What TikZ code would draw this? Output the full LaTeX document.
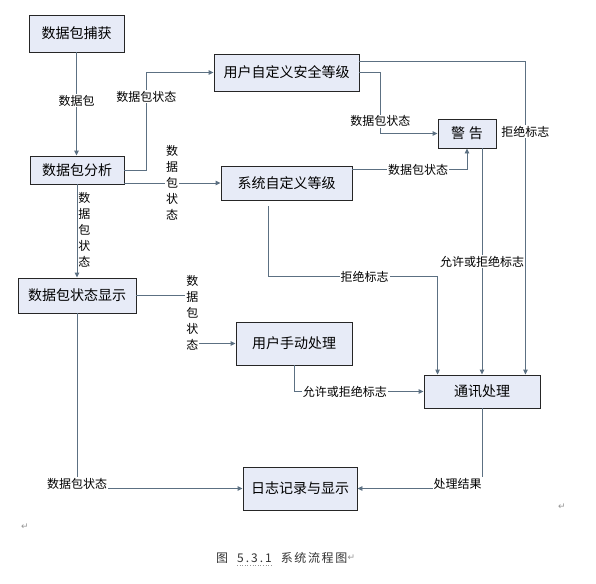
\documentclass[tikz,border=0pt]{standalone}
\usepackage{fontspec}
\newfontfamily\cjk{Noto Sans CJK SC}
\newfontfamily\dejavu{DejaVu Sans}
\usetikzlibrary{arrows.meta,calc}
\definecolor{ln}{RGB}{92,112,130}
\definecolor{bx}{RGB}{231,235,247}
\definecolor{mk}{RGB}{150,150,150}
\begin{document}
\begin{tikzpicture}[x=1pt,y=-1pt,
  box/.style={draw=black!85, fill=bx, line width=0.9pt, inner sep=0pt,
    font=\cjk\fontsize{14}{16}\selectfont},
  conn/.style={draw=ln, line width=0.9pt, -{Triangle[length=5pt,width=4.5pt]}},
  lbl/.style={font=\cjk\fontsize{12}{14}\selectfont, fill=white, inner sep=1pt},
  vlbl/.style={font=\cjk\fontsize{12}{16}\selectfont, fill=white, inner sep=1pt, align=center},
  parmark/.style={font=\dejavu\fontsize{9}{10}\selectfont, text=mk, inner sep=0pt}]
\useasboundingbox (0,0) rectangle (596,583);
\fill[white] (0,0) rectangle (596,583);

% boxes
\node[box, minimum width=95pt, minimum height=37pt] (cap) at (76.5,33.5) {数据包捕获};
\node[box, minimum width=145pt, minimum height=37pt] (usr) at (286.5,72.5) {用户自定义安全等级};
\node[box, minimum width=94pt, minimum height=28pt] (ana) at (77,170) {数据包分析};
\node[box, minimum width=131pt, minimum height=34pt] (sys) at (286.5,183) {系统自定义等级};
\node[box, minimum width=58pt, minimum height=29pt] (warn) at (467,133.5) {警\hspace{4pt}告};
\node[box, minimum width=118pt, minimum height=35pt] (disp) at (77,295.5) {数据包状态显示};
\node[box, minimum width=116pt, minimum height=43pt] (man) at (294,343.5) {用户手动处理};
\node[box, minimum width=116pt, minimum height=33pt] (comm) at (482,391.5) {通讯处理};
\node[box, minimum width=114pt, minimum height=43pt] (log) at (300,488.5) {日志记录与显示};

% connectors
\draw[conn] (cap.south) -- node[lbl, pos=0.47] {数据包} (cap.south |- ana.north);

\draw[conn] (ana.east) -- ++(22,0) -- node[lbl, pos=0.75] {数据包状态} ++(0,-97.5) -- (usr.west);

\draw[conn] (ana.east |- sys.west) -- node[vlbl, pos=0.495] {数\\据\\包\\状\\态} (sys.west);

\draw[conn] (ana.south) -- node[vlbl, pos=0.49, right, fill=none] {数\\据\\包\\状\\态} (disp.north);

\draw[conn] (usr.east) -- ++(21,0) |- node[lbl, pos=0.4] {数据包状态} (warn.west);

\draw[conn] ($(usr.north east)+(0,8)$) -| node[lbl, pos=0.612] {拒绝标志} ($(comm.north east)+(-15,0)$);

\draw[conn] ($(sys.north east)+(0,4)$) -| node[lbl, pos=0.287] {数据包状态} (warn.south);

\draw[conn] (comm.north |- warn.south) -- node[lbl, pos=0.5] {允许或拒绝标志} (comm.north);

\draw[conn] ($(sys.south)+(-18.5,6)$) |- node[lbl, pos=0.785] {拒绝标志} ($(comm.north west)+(14,-98)$) -- ($(comm.north west)+(14,0)$);

\draw[conn] (disp.east) -- ++(56,0) -- node[vlbl, pos=0.36] {数\\据\\包\\状\\态} ++(0,48) -- (man.west);

\draw[conn] (man.south) |- node[lbl, pos=0.696] {允许或拒绝标志} (comm.west);

\draw[conn] (disp.south) |- node[lbl, pos=0.5, yshift=5pt] {数据包状态} (log.west);

\draw[conn] (comm.south) |- node[lbl, pos=0.5, anchor=east, yshift=5pt, xshift=1pt] {处理结果} (log.east);

% paragraph marks and caption
\node[parmark] (m1) at (25,527) {↵};
\node[parmark] (m2) at (562,507) {↵};
\node[anchor=west, inner sep=0pt, text=black!80, font=\cjk\fontsize{12}{14}\selectfont] (cap1) at (216,558) {图\hspace{9pt}5\kern2pt.\kern2pt3\kern2pt.\kern2pt1\hspace{9pt}系\kern1.6pt统\kern1.6pt流\kern1.6pt程\kern1.6pt图};
\node[parmark, anchor=west] (m3) at (cap1.east) {↵};
\draw[mk, dotted, line width=0.6pt] (237,565) -- (271,565);
\end{tikzpicture}
\end{document}
